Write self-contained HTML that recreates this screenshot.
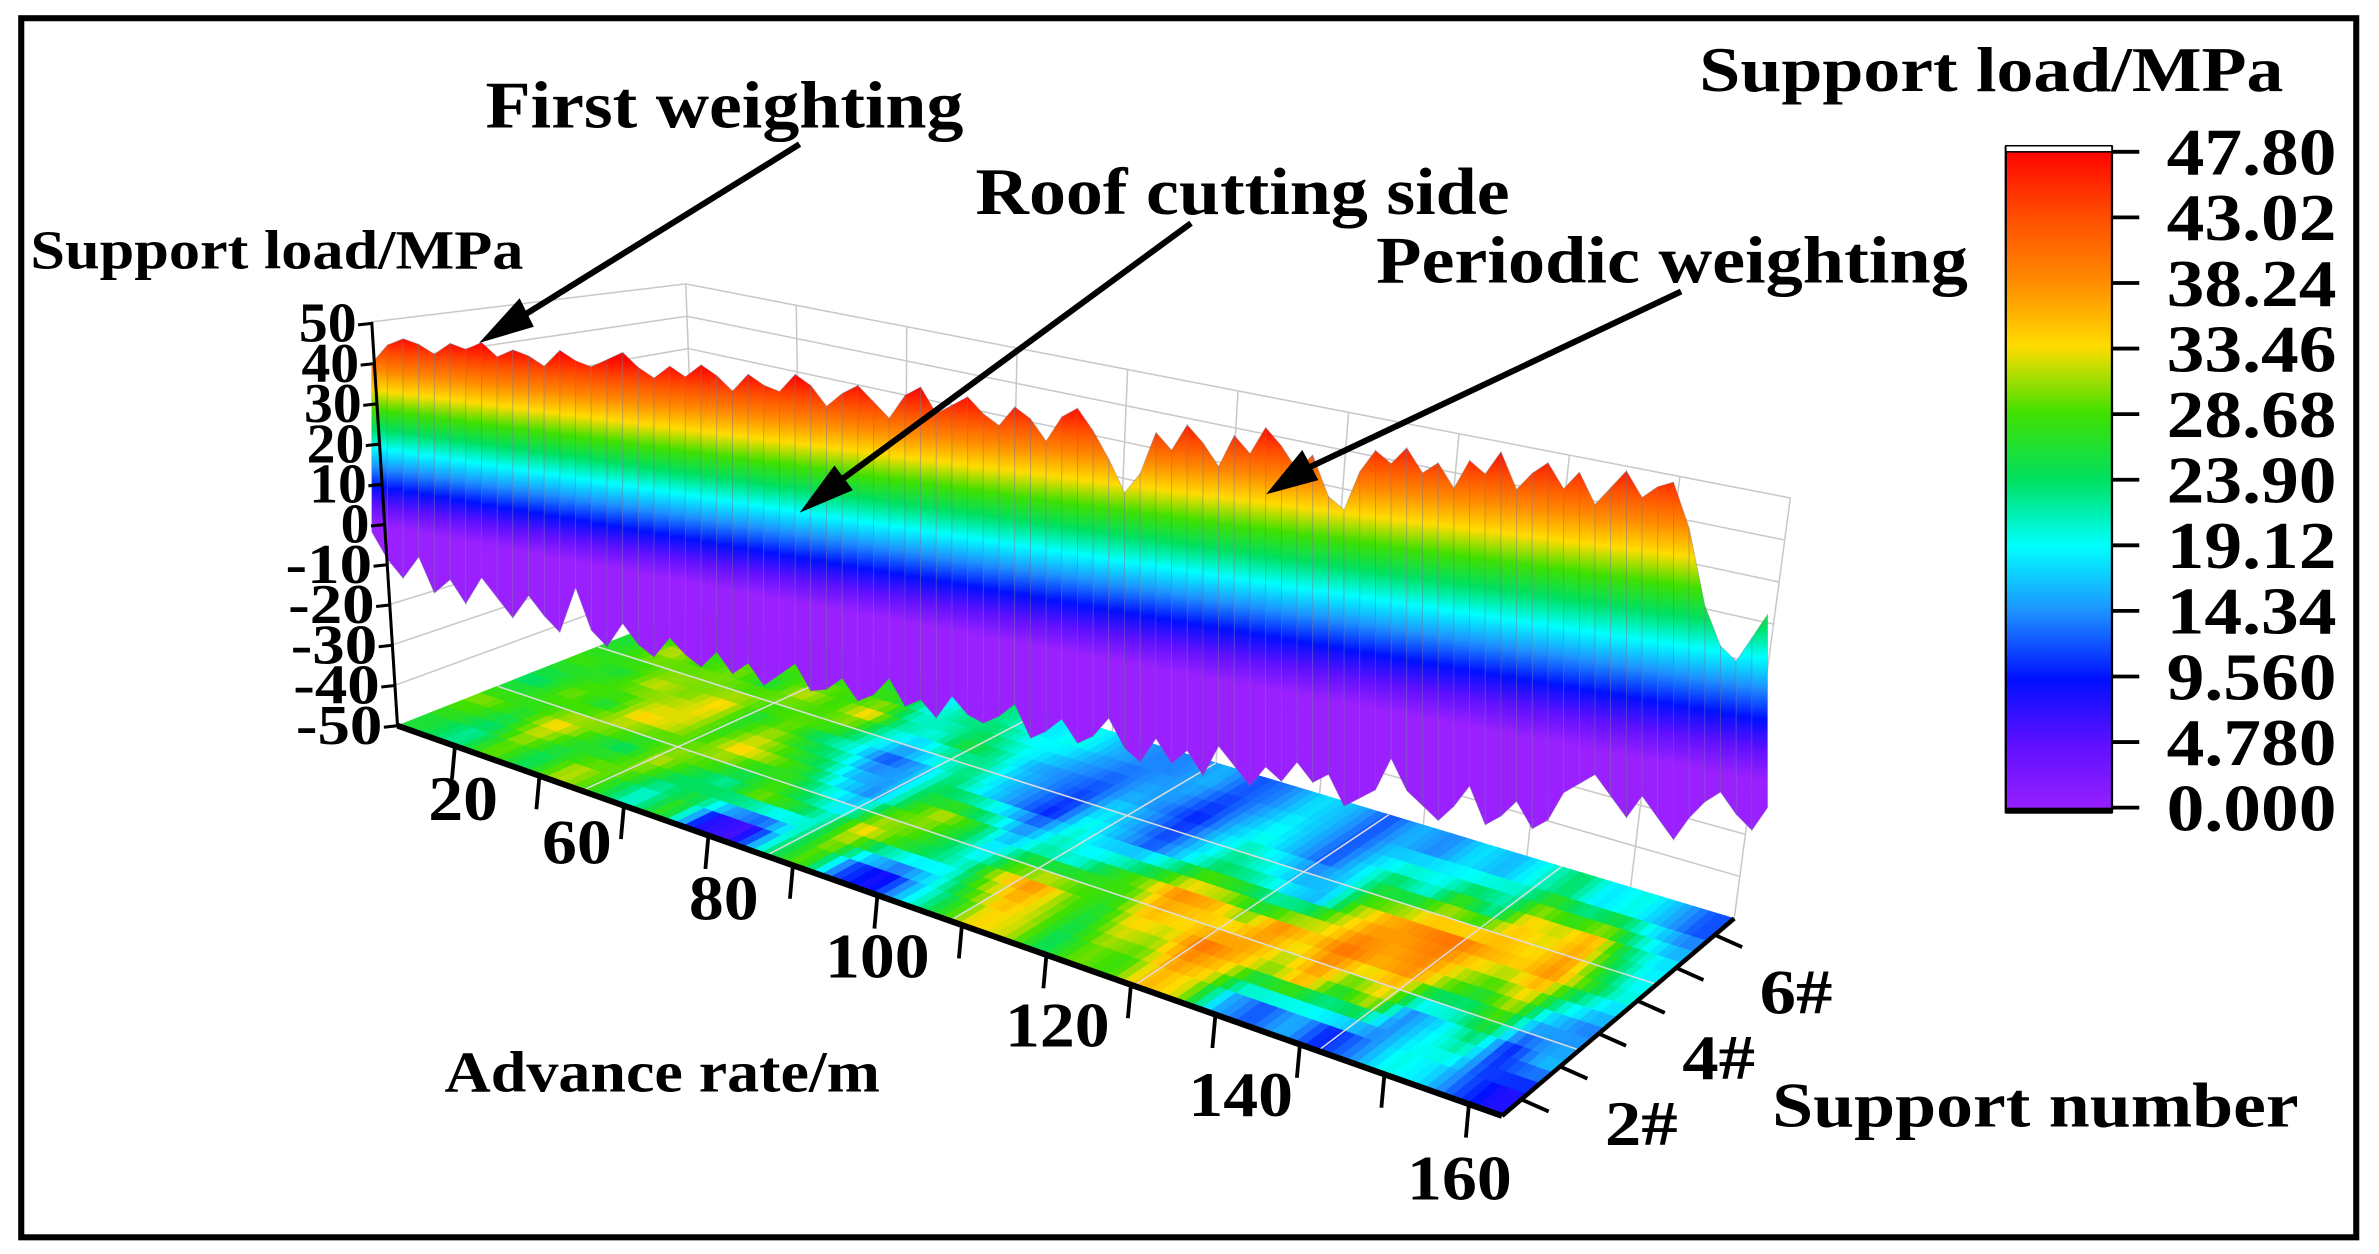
<!DOCTYPE html>
<html><head><meta charset="utf-8"><style>
html,body{margin:0;padding:0;background:#fff;}
svg{display:block;}
text{font-family:"Liberation Serif",serif;font-weight:bold;fill:#000;}
</style></head><body>
<svg id="chart" width="2379" height="1254" viewBox="0 0 1568 826" preserveAspectRatio="none" xmlns="http://www.w3.org/2000/svg">
<defs>
<linearGradient id="cbar" x1="0" y1="0" x2="0" y2="1">
<stop offset="0" stop-color="#ff0000"/><stop offset="0.1" stop-color="#ff4a00"/><stop offset="0.2" stop-color="#ff8a00"/><stop offset="0.3" stop-color="#ffdc00"/><stop offset="0.4" stop-color="#40e000"/><stop offset="0.5" stop-color="#00e060"/><stop offset="0.6" stop-color="#00ffff"/><stop offset="0.7" stop-color="#1e8fff"/><stop offset="0.8" stop-color="#0010ff"/><stop offset="0.9" stop-color="#6010ff"/><stop offset="1" stop-color="#9a20ff"/>
</linearGradient>
</defs>
<rect x="14" y="12" width="1539" height="803" fill="#fff" stroke="#000" stroke-width="4"/>
<g id="walls" stroke="#c8c8c8" stroke-width="1" fill="none"></g>
<g id="floor"></g>
<g id="surface"></g>
<g id="axes"></g>
<rect x="1322" y="97" width="70" height="438" fill="url(#cbar)" stroke="#000" stroke-width="1.5"/>
<rect x="1322" y="96" width="70" height="4" fill="#fff" stroke="#000" stroke-width="1"/>
<rect x="1322" y="532" width="70" height="4" fill="#000"/>
<g id="cbticks"></g>
<text x="1120" y="60" font-size="42" textLength="385" lengthAdjust="spacingAndGlyphs">Support load/MPa</text>
<text x="320" y="84" font-size="44" textLength="315" lengthAdjust="spacingAndGlyphs">First weighting</text>
<text x="643" y="141" font-size="44" textLength="352" lengthAdjust="spacingAndGlyphs">Roof cutting side</text>
<text x="907" y="186" font-size="44" textLength="390" lengthAdjust="spacingAndGlyphs">Periodic weighting</text>
<text x="20" y="177" font-size="36" textLength="325" lengthAdjust="spacingAndGlyphs">Support load/MPa</text>
<text x="293" y="719" font-size="38" textLength="287" lengthAdjust="spacingAndGlyphs">Advance rate/m</text>
<text x="1168" y="742" font-size="42" textLength="347" lengthAdjust="spacingAndGlyphs">Support number</text>
<g stroke="#000" stroke-width="4" fill="#000">
<line x1="527" y1="95" x2="335" y2="214"/>
<polygon points="322,222 342,200 349,214"/>
<line x1="785" y1="147" x2="545" y2="323"/>
<polygon points="533,333 550,310 559,322"/>
<line x1="1108" y1="192" x2="852" y2="313"/>
<polygon points="840,322 858,300 866,315"/>
</g>
</svg>
<script>
// ---- data ----
const cbLabels = ["47.80","43.02","38.24","33.46","28.68","23.90","19.12","14.34","9.560","4.780","0.000"];
const zTicks = [50,40,30,20,10,0,-10,-20,-30,-40,-50];
const xTicks = [20,60,80,100,120,140,160];
const xTickPos = [0.08,0.183,0.316,0.455,0.618,0.784,0.982];
const yTicks = ["2#","4#","6#"];
const surfaceTop = [40,45,47,46,44,47,46,48,45,47,46,44,48,46,45,47,49,46,44,47,45,48,46,43,47,45,44,48,46,42,45,47,44,41,46,48,43,45,47,44,42,46,44,40,45,47,43,38,32,36,44,41,46,43,39,45,42,47,44,40,43,36,34,41,45,43,46,42,44,40,45,43,47,41,44,46,42,45,40,43,46,42,44,45,38,26,20,18,22,26];
const surfaceBottom = [-2,-8,-12,-6,-14,-10,-15,-8,-12,-16,-10,-14,-17,-6,-15,-18,-12,-16,-18,-13,-16,-18,-14,-18,-15,-19,-16,-13,-18,-17,-14,-18,-16,-12,-17,-15,-18,-13,-16,-17,-15,-12,-18,-16,-13,-17,-15,-11,-16,-18,-13,-17,-14,-18,-12,-15,-18,-14,-16,-12,-15,-13,-18,-16,-14,-8,-13,-15,-17,-14,-10,-16,-14,-11,-15,-13,-8,-6,-4,-7,-10,-6,-9,-12,-8,-5,-3,-6,-8,-4];
const floorRow1 = [26,22,30,24,32,28,20,28,8,6,22,30,12,8,18,26,34,32,24,30,28,36,32,16,12,16,10,14,20,18,12,8];
const floorRow2 = [30,26,34,28,24,32,26,22,30,26,20,34,28,24,20,32,38,30,26,34,32,40,36,30,36,26,32,14,18,24,10,16];
const floorRow3 = [24,30,26,34,32,28,34,30,26,18,14,26,32,26,16,22,20,26,30,38,36,30,38,34,40,36,38,30,26,32,18,14];
const floorRow4 = [28,26,32,30,34,26,30,24,20,12,16,24,18,14,10,20,16,12,18,24,22,18,16,30,36,38,40,36,34,38,28,20];
const floorRow5 = [26,32,28,30,26,32,28,34,22,20,26,22,16,14,12,16,14,10,16,20,16,12,18,24,20,28,22,34,32,36,24,18];
const floorRow6 = [24,28,26,28,30,26,28,24,18,24,22,18,20,16,14,14,16,12,14,18,16,12,16,14,18,16,20,24,18,20,16,12];
// ---- helpers ----
const NS="http://www.w3.org/2000/svg";
function mk(tag,attrs,parent){const e=document.createElementNS(NS,tag);for(const k in attrs)e.setAttribute(k,attrs[k]);parent.appendChild(e);return e;}
const stops=[[0,[154,32,255]],[4.78,[96,16,255]],[9.56,[0,16,255]],[14.34,[30,143,255]],[19.12,[0,255,255]],[23.9,[0,224,96]],[28.68,[64,224,0]],[33.46,[255,220,0]],[38.24,[255,138,0]],[43.02,[255,74,0]],[47.8,[255,0,0]]];
function col(v){v=Math.max(0,Math.min(47.8,v));for(let i=0;i<stops.length-1;i++){if(v<=stops[i+1][0]){const t=(v-stops[i][0])/(stops[i+1][0]-stops[i][0]);const a=stops[i][1],b=stops[i+1][1];return `rgb(${Math.round(a[0]+(b[0]-a[0])*t)},${Math.round(a[1]+(b[1]-a[1])*t)},${Math.round(a[2]+(b[2]-a[2])*t)})`;}}return "rgb(255,0,0)";}
const svg=document.getElementById('chart');
const defs=svg.querySelector('defs');
const X0=245,X1=1165;
function xs(i,n){return X0+i*(X1-X0)/(n-1);}
function z0(x){return 345+(x-X0)*(170/920);}
function kz(x){return 2.64+(x-X0)/920*1.6;}
function ys(x,v){return z0(x)-v*kz(x);}
// walls
const walls=document.getElementById('walls');
mk('polyline',{points:"245,212 452,187 1180,328"},walls);
mk('line',{x1:452,y1:187,x2:460,y2:400},walls);
mk('line',{x1:1180,y1:328,x2:1143,y2:605},walls);
for(let k=1;k<10;k++){const t=k/10;mk('line',{x1:452+(1180-452)*t,y1:187+(328-187)*t,x2:460+(1143-460)*t,y2:400+(605-400)*t},walls);}
for(let k=1;k<10;k++){const t=k/10;mk('line',{x1:452+8*t,y1:187+213*t,x2:1180-37*t,y2:328+277*t},walls);mk('line',{x1:245+17*t,y1:212+266*t,x2:452+8*t,y2:187+213*t},walls);}
// floor heatmap (values smoothed between cells for display)
const floor=document.getElementById('floor');
const rows=[floorRow1,floorRow2,floorRow3,floorRow4,floorRow5,floorRow6];
const A=[262,478],B=[990,735],C=[1143,605],D=[460,400];
function bxy(u,w){return [A[0]*(1-u)*(1-w)+B[0]*u*(1-w)+C[0]*u*w+D[0]*(1-u)*w, A[1]*(1-u)*(1-w)+B[1]*u*(1-w)+C[1]*u*w+D[1]*(1-u)*w];}
function bil(u,w){const p=bxy(u,w);return p[0].toFixed(1)+","+p[1].toFixed(1);}
function sample(fr,fc){const nr=rows.length,nc=rows[0].length;const r=Math.max(0,Math.min(nr-1,fr)),c=Math.max(0,Math.min(nc-1,fc));const r0=Math.floor(r),c0=Math.floor(c),r1=Math.min(nr-1,r0+1),c1=Math.min(nc-1,c0+1);const tr=r-r0,tc=c-c0;
return rows[r0][c0]*(1-tr)*(1-tc)+rows[r0][c1]*(1-tr)*tc+rows[r1][c0]*tr*(1-tc)+rows[r1][c1]*tr*tc;}
const SR=3,SC=4;const NR=rows.length*SR,NC=rows[0].length*SC;
for(let r=0;r<NR;r++){for(let c=0;c<NC;c++){const v=sample((r+0.5)/SR-0.5,(c+0.5)/SC-0.5);const u0=c/NC,u1=(c+1)/NC,w0=r/NR,w1=(r+1)/NR;
const p=mk('polygon',{points:[bil(u0,w0),bil(u1,w0),bil(u1,w1),bil(u0,w1)].join(" "),fill:col(v),stroke:col(v),'stroke-width':0.5},floor);

}}
for(let k=1;k<6;k++){const p0=bxy(k/6,0),p1=bxy(k/6,1);mk('line',{x1:p0[0],y1:p0[1],x2:p1[0],y2:p1[1],stroke:"#ddd",'stroke-width':1},floor);}
for(let k=1;k<3;k++){const p0=bxy(0,k/3),p1=bxy(1,k/3);mk('line',{x1:p0[0],y1:p0[1],x2:p1[0],y2:p1[1],stroke:"#ddd",'stroke-width':1},floor);}
// surface strips
const surf=document.getElementById('surface');
const n=surfaceTop.length;
for(let i=0;i<n-1;i++){const xa=xs(i,n),xb=xs(i+1,n),xm=(xa+xb)/2;
const g=mk('linearGradient',{id:'sg'+i,gradientUnits:'userSpaceOnUse',x1:0,x2:0,y1:ys(xm,47.8),y2:ys(xm,0)},defs);
stops.slice().reverse().forEach(s=>{mk('stop',{offset:(1-s[0]/47.8).toFixed(3),'stop-color':`rgb(${s[1].join(',')})`},g);});
const pts=[[xa,ys(xa,surfaceTop[i])],[xb,ys(xb,surfaceTop[i+1])],[xb,ys(xb,surfaceBottom[i+1])],[xa,ys(xa,surfaceBottom[i])]];
const p=mk('polygon',{points:pts.map(q=>q[0].toFixed(1)+","+q[1].toFixed(1)).join(" "),fill:`url(#sg${i})`,stroke:'rgba(110,110,140,0.35)','stroke-width':0.6},surf);

}
// axes
const ax=document.getElementById('axes');
mk('line',{x1:245,y1:212,x2:262,y2:478,stroke:"#000",'stroke-width':2},ax);
mk('line',{x1:A[0],y1:A[1],x2:B[0],y2:B[1],stroke:"#000",'stroke-width':4},ax);
mk('line',{x1:B[0],y1:B[1],x2:C[0],y2:C[1],stroke:"#000",'stroke-width':3},ax);
zTicks.forEach((v,i)=>{const t=i/(zTicks.length-1);const x=245+17*t,y=213+265*t;
mk('line',{x1:x-9,y1:y+1,x2:x,y2:y,stroke:"#000",'stroke-width':2},ax);
const w=String(v).length*19;
const tx=mk('text',{x:x-10-w,y:y+12,'font-size':37,textLength:w,lengthAdjust:'spacingAndGlyphs'},ax);tx.textContent=v;

});
for(let k=0;k<13;k++){const u=0.052+k*0.0765;const x=A[0]+(B[0]-A[0])*u,y=A[1]+(B[1]-A[1])*u;mk('line',{x1:x,y1:y,x2:x-2,y2:y+22,stroke:"#000",'stroke-width':2.5},ax);}
xTicks.forEach((v,i)=>{const u=xTickPos[i];const x=A[0]+(B[0]-A[0])*u,y=A[1]+(B[1]-A[1])*u;
const w=String(v).length*23;
const tx=mk('text',{x:x-15-w/2,y:y+40+20*u,'font-size':42,textLength:w,lengthAdjust:'spacingAndGlyphs'},ax);tx.textContent=v;

});
for(let k=0;k<6;k++){const t=(k+0.5)/6;const x=B[0]+(C[0]-B[0])*t,y=B[1]+(C[1]-B[1])*t;mk('line',{x1:x,y1:y,x2:x+18,y2:y+8,stroke:"#000",'stroke-width':2.5},ax);}
yTicks.forEach((v,i)=>{const t=(2*i+0.5)/6;const x=B[0]+(C[0]-B[0])*t,y=B[1]+(C[1]-B[1])*t;
const tx=mk('text',{x:x+55,y:y+30,'font-size':42,textLength:48,lengthAdjust:'spacingAndGlyphs'},ax);tx.textContent=v;

});
// colorbar ticks
const cb=document.getElementById('cbticks');
cbLabels.forEach((l,i)=>{const y=100+i*(532-100)/(cbLabels.length-1);
mk('line',{x1:1392,y1:y,x2:1410,y2:y,stroke:"#000",'stroke-width':2.5},cb);
const tx=mk('text',{x:1428,y:y+15,'font-size':44,textLength:112,lengthAdjust:'spacingAndGlyphs'},cb);tx.textContent=l;

});
</script>
</body></html>
